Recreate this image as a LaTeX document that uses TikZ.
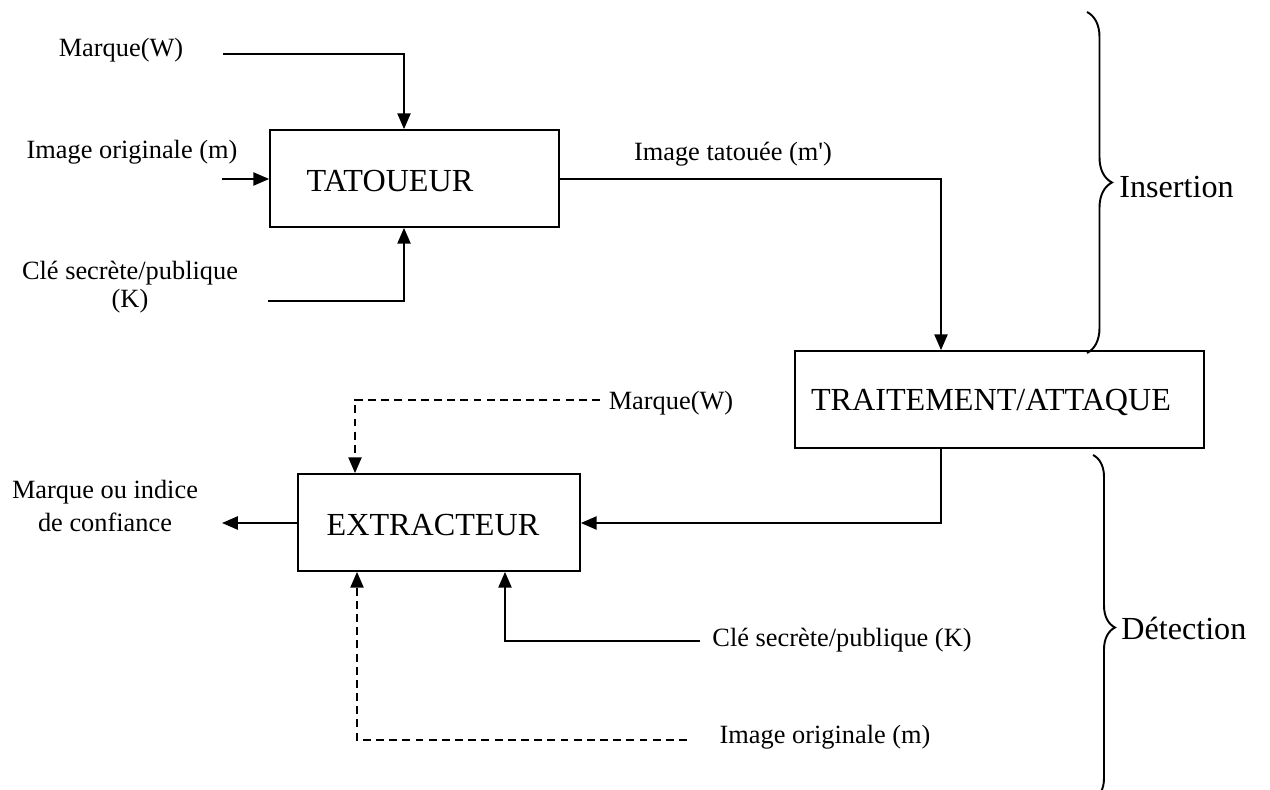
\documentclass[tikz,border=0pt]{standalone}
\usepackage{fontspec}
\setmainfont{Liberation Serif}
\usetikzlibrary{arrows.meta,decorations.pathreplacing,calc}
\begin{document}
\begin{tikzpicture}[x=0.02cm,y=-0.02cm,
  box/.style={draw,line width=1pt,inner sep=0pt},
  lbl/.style={font=\fontsize{15}{16}\selectfont,inner sep=0pt,align=center},
  ttl/.style={font=\fontsize{18.3}{21}\selectfont,inner sep=0pt},
  conn/.style={line width=1pt},
  arr/.style={conn,-{Triangle[length=9pt,width=7.5pt]}},
  dsh/.style={dash pattern=on 4.5pt off 3pt},
  brc/.style={decorate,line width=1.1pt}]
\useasboundingbox[fill=white] (0,0) rectangle (1270,790);
% boxes
\node[box,minimum width=5.78cm,minimum height=1.94cm] (tat) at (414.5,178.5) {};
\node[ttl] (tatL) at (390,181) {TATOUEUR};
\node[box,minimum width=8.18cm,minimum height=1.94cm] (trt) at (999.5,399.5) {};
\node[ttl] (trtL) at (991,402) {TRAITEMENT/ATTAQUE};
\node[box,minimum width=5.64cm,minimum height=1.94cm] (ext) at (439,522.5) {};
\node[ttl] (extL) at (433,525) {EXTRACTEUR};
% labels
\node[lbl] (mW) at (121,50) {Marque(W)};
\node[lbl] (imO) at (132,152) {Image originale (m)};
\node[lbl] (cK) at (130,287) {Clé secrète/publique\\(K)};
\node[lbl] (imT) at (733,154) {Image tatouée (m\textquotesingle)};
\node[lbl] (mW2) at (671,403) {Marque(W)};
\node[lbl,font=\fontsize{15}{19}\selectfont] (out) at (105,506) {Marque ou indice\\de confiance};
\node[lbl] (cK2) at (842,640) {Clé secrète/publique (K)};
\node[lbl] (imO2) at (825,737) {Image originale (m)};
\node[ttl,anchor=west] (ins) at (1119,187) {Insertion};
\node[ttl,anchor=west] (det) at (1121,628) {Détection};
% connectors
\coordinate (mwA) at (223,54); \coordinate (mwB) at (404,54);
\draw[arr] (mwA) -- (mwB) -- (mwB |- tat.north);
\coordinate (imA) at (222,179);
\draw[arr] (imA) -- (imA -| tat.west);
\coordinate (ckA) at (268,301); \coordinate (ckB) at (404,301);
\draw[arr] (ckA) -- (ckB) -- (ckB |- tat.south);
\coordinate (tA) at (941,179);
\draw[arr] (tat.east |- tA) -- (tA) -- (tA |- trt.north);
\coordinate (tB) at (941,523);
\draw[arr] (tB |- trt.south) -- (tB) -- (tB -| ext.east);
\coordinate (oA) at (222,523);
\draw[arr] (oA -| ext.west) -- (oA);
\coordinate (dmA) at (600,400); \coordinate (dmB) at (355,400);
\draw[arr,dsh] (dmA) -- (dmB) -- (dmB |- ext.north);
\coordinate (ck2A) at (700,641); \coordinate (ck2B) at (505,641);
\draw[arr] (ck2A) -- (ck2B) -- (ck2B |- ext.south);
\coordinate (io2A) at (687,740); \coordinate (io2B) at (357,740);
\draw[arr,dsh] (io2A) -- (io2B) -- (io2B |- ext.south);
% braces
\draw[brc,decoration={brace,amplitude=0.5cm}] (1087,12) -- (1087,353);
\draw[brc,decoration={brace,amplitude=0.44cm}] (1093,455) -- (1093,800);
\end{tikzpicture}
\end{document}
